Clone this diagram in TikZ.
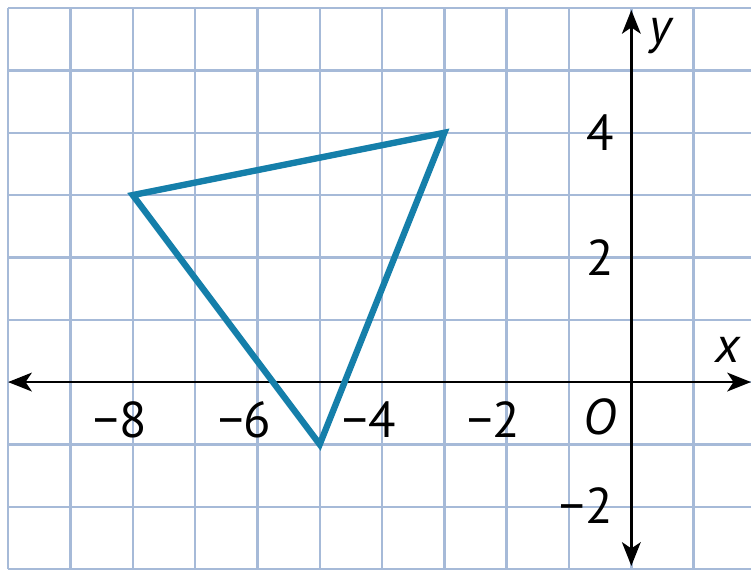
\documentclass[tikz,border=0pt]{standalone}
\usepackage{fontspec}
\setmainfont{PT Sans}
\usetikzlibrary{arrows.meta}
\definecolor{gridc}{HTML}{A6BAD8}
\definecolor{tri}{HTML}{157FAA}
\begin{document}
\begin{tikzpicture}[x=1cm,y=1cm,
  lab/.style={font=\fontsize{23}{27}\selectfont, inner sep=0pt},
  axis/.style={line width=1.3pt, {Stealth[length=0.38cm,width=0.3cm,inset=0.1cm]}-{Stealth[length=0.38cm,width=0.3cm,inset=0.1cm]}},
  gridline/.style={gridc, line width=1.1pt},
  triline/.style={tri, line width=2.9pt, line join=miter}]
\useasboundingbox (-10.13,-3.035) rectangle (1.92,6.13);
\fill[white] (-10.13,-3.035) rectangle (1.92,6.13);
\draw[gridline] (-10,-3) grid (1.95,6);
\coordinate (xl) at (-10.0,0);
\coordinate (xr) at (1.92,0);
\coordinate (yb) at (0,-2.95);
\coordinate (yt) at (0,5.97);
\draw[axis] (xl) -- (xr);
\draw[axis] (yb) -- (yt);
\coordinate (A) at (-8,3);
\coordinate (B) at (-3,4);
\coordinate (C) at (-5,-1);
\draw[triline] (A) -- (B) -- (C) -- cycle;
\node[lab] (lx) at (1.55,0.52) {\itshape x};
\node[lab] (ly) at (0.47,5.55) {\itshape y};
\node[lab] (o) at (-0.5,-0.56) {\itshape O};
\node[lab] (m8) at (-8,-0.6) {\llap{−}8};
\node[lab] (m6) at (-6,-0.6) {\llap{−}6};
\node[lab] (m4) at (-4,-0.6) {\llap{−}4};
\node[lab] (m2) at (-2,-0.6) {\llap{−}2};
\node[lab, anchor=east] (p4) at (-0.27,4) {4};
\node[lab, anchor=east] (p2) at (-0.27,2) {2};
\node[lab, anchor=east] (n2) at (-0.29,-1.98) {−2};
\end{tikzpicture}
\end{document}
